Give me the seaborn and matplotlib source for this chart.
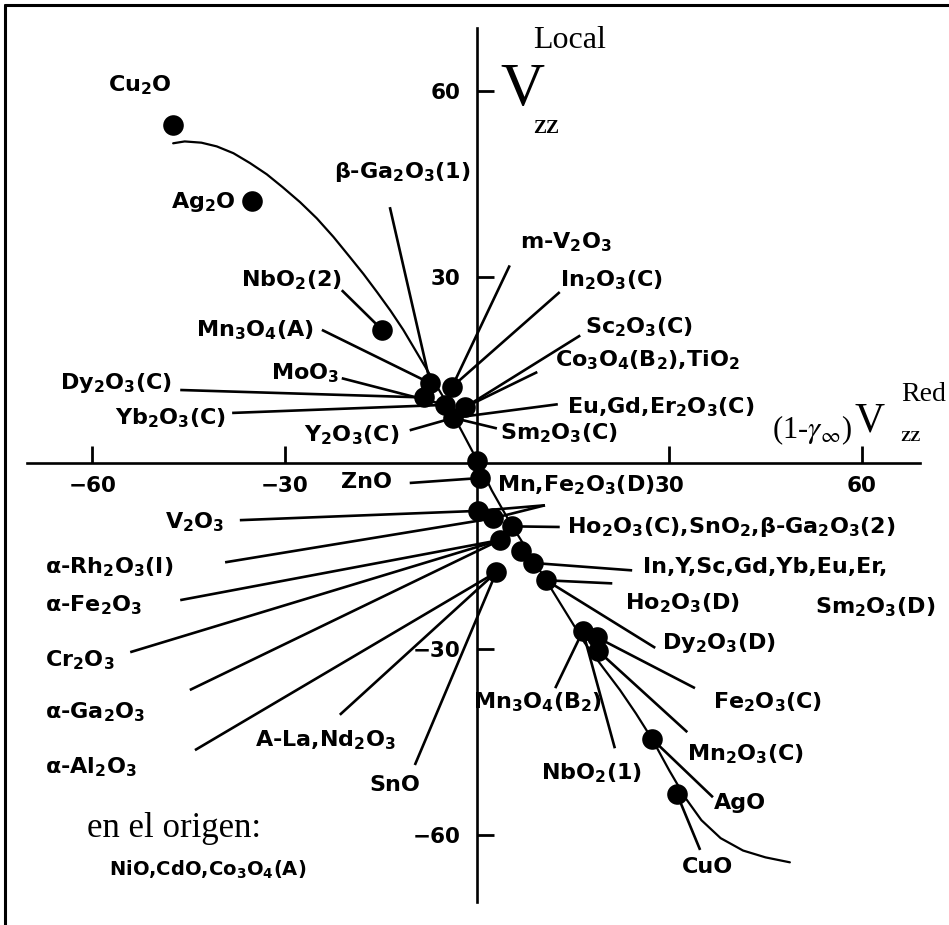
import re
import numpy as np
import pandas as pd
import matplotlib
matplotlib.use("Agg")
import matplotlib.pyplot as plt
from matplotlib.lines import Line2D
import seaborn as sns

# ---- measured field gradients (reduced vs. local), one dot per entry ----
dot_tag = ["Cu2O", "Ag2O", "NbO2(2)", "Mn3O4(A)", "m-V2O3", "Dy2O3(C)",
           "Sc2O3(C)", "MoO3", "Y2O3(C)", "NiO", "ZnO", "V2O3", "Rh2O3",
           "Ho2O3(C)", "Fe2O3", "In2O3(D)", "Y2O3(D)", "Ho2O3(D)", "SnO",
           "Mn3O4(B2)", "Fe2O3(C)", "Mn2O3(C)", "AgO", "CuO"]
v_red = [-47.4, -35.1, -14.8, -7.3, -3.9, -8.3, -1.9, -5.0, -3.7, 0.0, 0.5,
         0.2, 2.5, 5.5, 3.6, 6.9, 8.7, 10.8, 3.0, 16.5, 18.7, 18.9, 27.3, 31.2]
v_local = [54.5, 42.3, 21.5, 12.9, 12.3, 10.6, 9.0, 9.4, 7.3, 0.3, -2.4,
           -7.7, -8.9, -10.2, -12.4, -14.2, -16.1, -18.9, -17.6, -27.1, -28.1,
           -30.3, -44.5, -53.4]

# ---- trend curve ----
curve_red = [-47.4, -45.6, -43.0, -40.6, -38.0, -35.4, -32.8, -30.3, -27.6,
             -25.0, -22.4, -19.8, -17.7, -15.6, -13.5, -11.5, -8.4, -5.0,
             -2.3, 0.0, 2.3, 5.1, 8.3, 12.2, 16.8, 19.6, 22.3, 24.8, 27.3,
             30.0, 32.5, 35.0, 38.0, 41.5, 45.0, 48.8]
curve_local = [51.6, 51.9, 51.7, 51.1, 50.0, 48.4, 46.6, 44.5, 42.1, 39.5,
               36.5, 33.2, 30.5, 27.6, 24.6, 21.5, 16.1, 10.2, 5.0, 0.5,
               -4.4, -9.5, -14.8, -21.3, -29.0, -32.9, -36.6, -40.4, -44.5,
               -49.6, -54.0, -57.6, -60.5, -62.5, -63.6, -64.4]

ticks = [-60, -30, 30, 60]

# ---- compound labels: text, anchor, alignment, leader starts -> dot ----
labels = [
    ("Cu_2O", -52.6, 61.0, "center", []),
    ("Ag_2O", -42.7, 42.2, "center", []),
    ("NbO_2(2)", -29.0, 29.5, "center", [(-21.1, 27.9, "NbO2(2)")]),
    ("Mn_3O_4(A)", -34.6, 21.5, "center", [(-24.2, 21.5, "Mn3O4(A)")]),
    ("β-Ga_2O_3(1)", -11.7, 46.9, "center", [(-13.6, 41.3, "Mn3O4(A)")]),
    ("m-V_2O_3", 6.7, 35.6, "left", [(5.1, 31.9, "m-V2O3")]),
    ("In_2O_3(C)", 12.9, 29.5, "left", [(12.9, 27.6, "m-V2O3")]),
    ("Sc_2O_3(C)", 16.8, 21.9, "left", [(16.1, 20.6, "Sc2O3(C)")]),
    ("Co_3O_4(B_2),TiO_2", 12.2, 16.6, "left", [(9.4, 14.7, "Sc2O3(C)")]),
    ("Eu,Gd,Er_2O_3(C)", 14.0, 9.0, "left", [(12.6, 9.5, "Y2O3(C)")]),
    ("Sm_2O_3(C)", 3.6, 4.8, "left", [(3.1, 5.6, "Y2O3(C)")]),
    ("MoO_3", -26.8, 14.5, "center", [(-21.1, 13.7, "MoO3")]),
    ("Dy_2O_3(C)", -65.1, 12.9, "left", [(-46.3, 11.8, "Dy2O3(C)")]),
    ("Yb_2O_3(C)", -56.5, 7.3, "left", [(-38.2, 8.1, "MoO3")]),
    ("Y_2O_3(C)", -19.5, 4.5, "center", [(-10.5, 5.3, "Y2O3(C)")]),
    ("ZnO", -17.2, -3.1, "center", [(-10.5, -3.2, "ZnO")]),
    ("Mn,Fe_2O_3(D)", 3.1, -3.5, "left", [(10.6, -6.8, "Rh2O3"),
                                          (10.6, -6.8, "V2O3")]),
    ("Ho_2O_3(C),SnO_2,β-Ga_2O_3(2)", 14.0, -10.3, "left",
     [(12.9, -10.3, "Ho2O3(C)")]),
    ("V_2O_3", -48.7, -9.5, "left", [(-37.0, -9.2, "V2O3")]),
    ("α-Rh_2O_3(I)", -67.4, -16.8, "left", [(-39.3, -16.0, "Rh2O3")]),
    ("α-Fe_2O_3", -67.4, -22.9, "left", [(-46.3, -22.1, "Fe2O3")]),
    ("Cr_2O_3", -67.4, -31.8, "left", [(-54.1, -30.5, "Fe2O3")]),
    ("α-Ga_2O_3", -67.4, -40.2, "left", [(-44.8, -36.6, "Fe2O3")]),
    ("α-Al_2O_3", -67.4, -49.0, "left", [(-44.0, -46.3, "SnO")]),
    ("A-La,Nd_2O_3", -23.7, -44.7, "center", [(-21.4, -40.6, "SnO")]),
    ("SnO", -12.8, -51.9, "center", [(-9.7, -48.7, "SnO")]),
    ("In,Y,Sc,Gd,Yb,Eu,Er,", 25.9, -16.8, "left", [(24.2, -17.3, "Y2O3(D)")]),
    ("Sm_2O_3(D)", 71.5, -23.2, "right", []),
    ("Ho_2O_3(D)", 23.1, -22.6, "left", [(21.1, -19.4, "Ho2O3(D)")]),
    ("Dy_2O_3(D)", 28.9, -29.0, "left", [(27.8, -29.8, "Ho2O3(D)")]),
    ("Mn_3O_4(B_2)", 9.5, -38.5, "center", [(12.2, -36.3, "Mn3O4(B2)")]),
    ("NbO_2(1)", 17.9, -50.0, "center", [(21.5, -46.0, "Mn3O4(B2)")]),
    ("Fe_2O_3(C)", 36.8, -38.5, "left", [(34.0, -36.3, "Fe2O3(C)")]),
    ("Mn_2O_3(C)", 32.8, -46.9, "left", [(32.8, -43.4, "Mn2O3(C)")]),
    ("AgO", 41.0, -54.8, "center", [(36.8, -53.9, "AgO")]),
    ("CuO", 35.9, -65.2, "center", [(34.8, -62.4, "CuO")]),
]


def chem(s):
    """Turn 'Cu_2O' into text with bold subscript digits."""
    return re.sub(r"_(\w)", r"$_\\mathbf{\1}$", s)


sns.set_theme(style="white")
plt.rcParams["font.family"] = ["DejaVu Sans"]
plt.rcParams["mathtext.fontset"] = "dejavusans"
plt.rcParams["text.color"] = "black"

dots = pd.DataFrame({"tag": dot_tag, "v_red": v_red, "v_local": v_local})
pos = dots.set_index("tag")

fig = plt.figure(figsize=(9.49, 9.25), dpi=100)
ax = fig.add_axes([27 / 949, 23 / 925, 893 / 949, 874 / 925])

sns.lineplot(x=curve_red, y=curve_local, sort=False, estimator=None,
             color="black", lw=1.6, ax=ax, zorder=3)
sns.scatterplot(data=dots, x="v_red", y="v_local", color="black", s=220,
                linewidth=0, ax=ax, zorder=4, legend=False)

for text, tx, ty, ha, leaders in labels:
    ax.text(tx, ty, chem(text), ha=ha, va="center", fontsize=16,
            fontweight="bold", color="black", zorder=5)
    for sx, sy, tag in leaders:
        ax.plot([sx, pos.loc[tag, "v_red"]], [sy, pos.loc[tag, "v_local"]],
                color="black", lw=1.9, solid_capstyle="butt", zorder=2)

ax.set_xlim(-70.2, 69.1)
ax.set_ylim(-70.8, 70.2)
ax.set_xlabel("")
ax.set_ylabel("")
for side in ("top", "right"):
    ax.spines[side].set_visible(False)
for side in ("left", "bottom"):
    ax.spines[side].set_position(("data", 0))
    ax.spines[side].set_color("black")
    ax.spines[side].set_linewidth(1.9)
ax.set_facecolor("white")

ax.set_xticks(ticks)
ax.set_yticks(ticks)
ax.tick_params(axis="both", direction="in", length=12, width=2,
               color="black", labelsize=15.5, labelcolor="black",
               bottom=True, left=True)
ax.tick_params(axis="x", pad=9)
ax.tick_params(axis="y", pad=12)
for lab in ax.get_xticklabels() + ax.get_yticklabels():
    lab.set_fontweight("bold")

# axis titles
serif = ["Liberation Serif", "DejaVu Serif"]
ax.text(7.0, 60.2, "V", family=serif, fontsize=44, ha="center", va="center",
        color="black")
ax.text(14.5, 68.2, "Local", family=serif, fontsize=23, ha="center",
        va="center", color="black")
ax.text(10.8, 54.0, "ZZ", family=serif, fontsize=14, fontweight="bold",
        ha="center", va="center", color="black")
ax.text(52.3, 5.3, r"(1-$\gamma_{\infty}$)", family=serif,
        math_fontfamily="stix", fontsize=22, ha="center", va="center",
        color="black")
ax.text(61.2, 6.8, "V", family=serif, fontsize=30, ha="center", va="center",
        color="black")
ax.text(69.6, 11.1, "Red", family=serif, fontsize=20, ha="center",
        va="center", color="black")
ax.text(67.6, 4.2, "ZZ", family=serif, fontsize=11, fontweight="bold",
        ha="center", va="center", color="black")

ax.text(-47.3, -60.3, "en el origen:", family=serif, fontsize=25,
        ha="center", va="baseline", color="black")
ax.text(-42.1, -65.6, chem("NiO,CdO,Co_3O_4(A)"), fontsize=14,
        fontweight="bold", ha="center", va="center", color="black")

# frame lines along the left and top edge
fig.add_artist(Line2D([5 / 949, 5 / 949], [0, 1 - 5 / 925],
                      transform=fig.transFigure, color="black", lw=2.2))
fig.add_artist(Line2D([5 / 949, 1], [1 - 5 / 925, 1 - 5 / 925],
                      transform=fig.transFigure, color="black", lw=2.2))

fig.savefig("out.png", dpi=100, facecolor="white")
